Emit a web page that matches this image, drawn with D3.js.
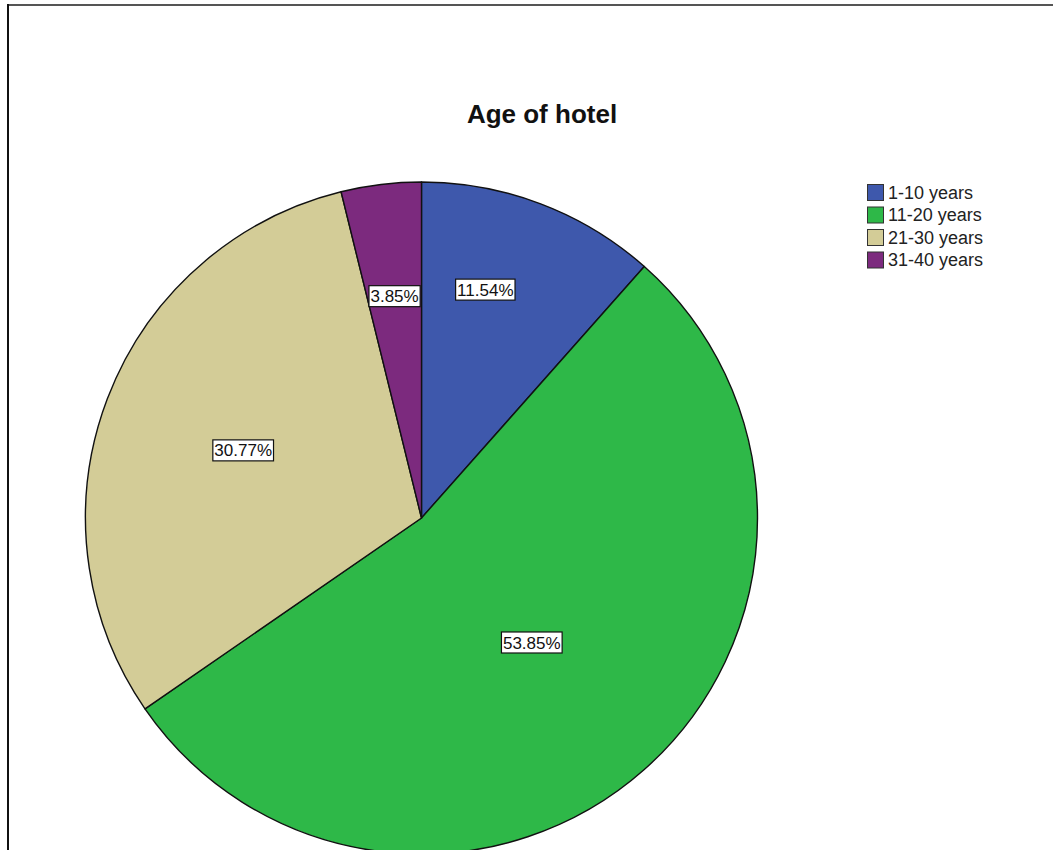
<!DOCTYPE html>
<html>
<head>
<meta charset="utf-8">
<script src="https://cdn.jsdelivr.net/npm/d3@7"></script>
<style>
  html, body { margin: 0; padding: 0; background: #fff; }
  svg { display: block; }
</style>
</head>
<body>
<svg id="chart" width="1053" height="850"></svg>
<script>
// Age of hotel: share of hotels (n = 26) by age band
const categories = ["1-10 years", "11-20 years", "21-30 years", "31-40 years"];
const counts = [3, 14, 8, 1];
const percentLabels = ["11.54%", "53.85%", "30.77%", "3.85%"];
const sliceColors = ["#3E58AC", "#2EB848", "#D3CC97", "#7C2A7E"];

const svg = d3.select("#chart");
const W = 1053, H = 850;

// outer frame lines
svg.append("line").attr("x1", 7).attr("x2", W).attr("y1", 5).attr("y2", 5)
  .attr("stroke", "#555").attr("stroke-width", 2);
svg.append("line").attr("x1", 8).attr("x2", 8).attr("y1", 4).attr("y2", H)
  .attr("stroke", "#111").attr("stroke-width", 2);

// title
svg.append("text")
  .attr("x", 542).attr("y", 123)
  .attr("text-anchor", "middle")
  .attr("font-family", "Liberation Sans, Arial, sans-serif")
  .attr("font-weight", "bold")
  .attr("font-size", 26)
  .attr("fill", "#111")
  .text("Age of hotel");

// pie
const cx = 421.5, cy = 518, R = 336;
const color = d3.scaleOrdinal().domain(categories).range(sliceColors);
const pie = d3.pie().value(d => d.v).sort(null).startAngle(0).endAngle(2 * Math.PI);
const rows = categories.map((c, i) => ({ cat: c, v: counts[i], label: percentLabels[i] }));
const arcs = pie(rows);
const arc = d3.arc().innerRadius(0).outerRadius(R);

const g = svg.append("g").attr("transform", `translate(${cx},${cy})`);
g.selectAll("path.slice").data(arcs).enter().append("path")
  .attr("class", "slice")
  .attr("d", arc)
  .attr("fill", d => color(d.data.cat))
  .attr("stroke", "#111")
  .attr("stroke-width", 1.4)
  .attr("stroke-linejoin", "round");

// labels sit near each sector's area centroid, kept off the centre for wide sectors
const labelNudge = { "1-10 years": { da: -0.09, dr: 18 } };
function labelPos(d) {
  const half = (d.endAngle - d.startAngle) / 2;
  let r = 2 * R * Math.sin(half) / (3 * half);
  r = Math.max(r, 0.495 * R);
  let a = (d.startAngle + d.endAngle) / 2;
  const n = labelNudge[d.data.cat];
  if (n) { a += n.da; r += n.dr; }
  return [r * Math.sin(a), -r * Math.cos(a)];
}

const labels = g.selectAll("g.lbl").data(arcs).enter().append("g")
  .attr("class", "lbl")
  .attr("transform", d => `translate(${labelPos(d)})`);
labels.append("rect").attr("class", "box");
labels.append("text")
  .attr("text-anchor", "middle")
  .attr("dy", "0.36em")
  .attr("font-family", "Liberation Sans, Arial, sans-serif")
  .attr("font-size", 17)
  .attr("fill", "#111")
  .text(d => d.data.label);
labels.each(function () {
  const t = d3.select(this).select("text").node().getBBox();
  d3.select(this).select("rect")
    .attr("x", t.x - 1.5).attr("y", -10.5)
    .attr("width", t.width + 3).attr("height", 21)
    .attr("fill", "#fff").attr("stroke", "#111").attr("stroke-width", 1.2);
});

// legend
const legend = svg.append("g").attr("transform", "translate(867,184)");
const item = legend.selectAll("g").data(categories).enter().append("g")
  .attr("transform", (d, i) => `translate(0,${i * 22.5})`);
item.append("rect")
  .attr("x", 0.5).attr("y", 0.5).attr("width", 16).attr("height", 16)
  .attr("fill", d => color(d))
  .attr("stroke", "#333").attr("stroke-width", 1);
item.append("text")
  .attr("x", 21).attr("y", 8.5).attr("dy", "0.36em")
  .attr("font-family", "Liberation Sans, Arial, sans-serif")
  .attr("font-size", 18)
  .attr("fill", "#222")
  .text(d => d);
</script>
</body>
</html>
